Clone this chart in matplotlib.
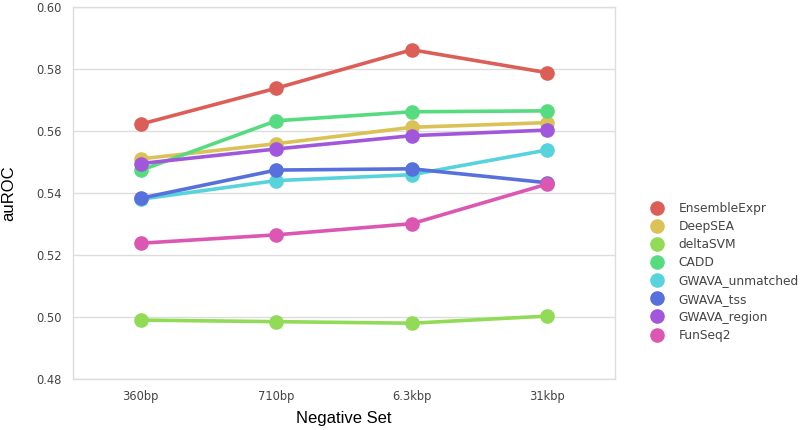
import matplotlib
matplotlib.use('Agg')
import matplotlib.pyplot as plt
import seaborn as sns
import numpy as np

# Data
neg_sets = ['360bp', '710bp', '6.3kbp', '31kbp']
methods = ['EnsembleExpr', 'DeepSEA', 'deltaSVM', 'CADD',
           'GWAVA_unmatched', 'GWAVA_tss', 'GWAVA_region', 'FunSeq2']
ensemble_expr = [0.5622, 0.5738, 0.5862, 0.5788]
deepsea = [0.5510, 0.5559, 0.5612, 0.5627]
deltasvm = [0.4990, 0.4985, 0.4980, 0.5003]
cadd = [0.5473, 0.5633, 0.5662, 0.5665]
gwava_unmatched = [0.5380, 0.5440, 0.5459, 0.5539]
gwava_tss = [0.5383, 0.5474, 0.5478, 0.5433]
gwava_region = [0.5495, 0.5542, 0.5585, 0.5603]
funseq2 = [0.5238, 0.5265, 0.5301, 0.5429]
yticks = [0.48, 0.50, 0.52, 0.54, 0.56, 0.58, 0.60]

series = [ensemble_expr, deepsea, deltasvm, cadd,
          gwava_unmatched, gwava_tss, gwava_region, funseq2]

#-----------------------------------------------------------------------------------------------------------------------
sns.set_style('whitegrid')
colors = sns.color_palette('hls', len(methods))

fig = plt.figure(figsize=(8, 4.3), dpi=100)
ax = fig.add_axes([0.091, 0.1186, 0.678, 0.8651])

x = np.arange(len(neg_sets))
for k in range(len(methods)):
    ax.plot(x, series[k], color=colors[k], linewidth=2.6, marker='o',
            markersize=9.5, label=methods[k], solid_capstyle='round')

ax.set_xlim(-0.5, len(neg_sets) - 0.5)
ax.set_ylim(0.48, 0.60)
ax.set_xticks(x)
ax.set_xticklabels(neg_sets)
ax.set_yticks(yticks)
ax.set_yticklabels(['%.2f' % v for v in yticks])
ax.tick_params(axis='both', labelsize=8.3, colors='#444444', length=0, pad=8)
ax.xaxis.grid(False)
ax.yaxis.grid(True, color='#dddddd', linewidth=1)
for s in ax.spines.values():
    s.set_color('#dddddd')
    s.set_linewidth(1)

ax.set_xlabel('Negative Set', fontsize=12, family='Liberation Sans', color='black', labelpad=6)
ax.set_ylabel('auROC', fontsize=12, family='Liberation Sans', color='black', labelpad=14)

leg = ax.legend(loc='center left', bbox_to_anchor=(1.05, 0.288), frameon=False,
                fontsize=8.8, handlelength=0.6, handletextpad=1.45, labelspacing=0.42,
                labelcolor='#444444')
for h in leg.legend_handles:
    h.set_linestyle('')
    h.set_markersize(9.5)

fig.savefig('out.png', dpi=100)
